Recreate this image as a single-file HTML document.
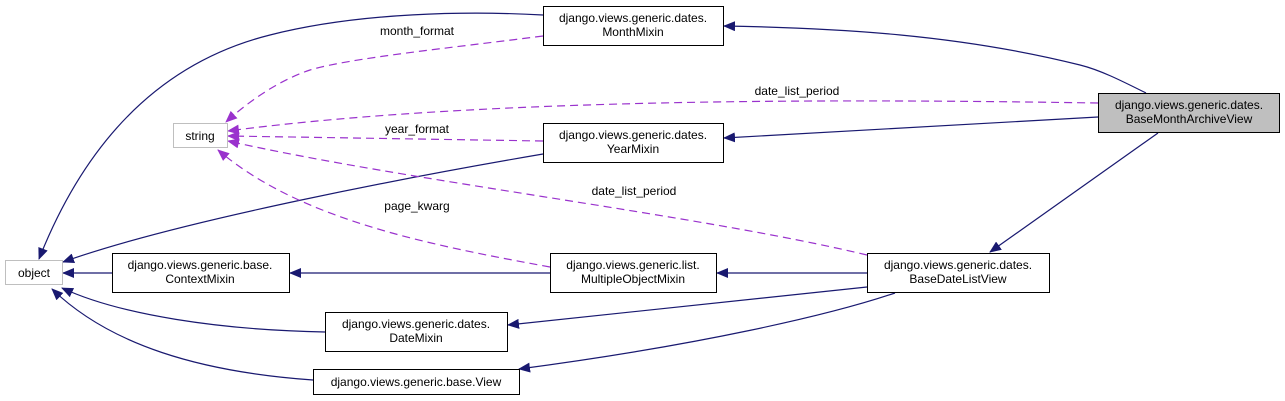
<!DOCTYPE html>
<html><head><meta charset="utf-8"><style>
html,body{margin:0;padding:0;background:#fff;}
svg{display:block;}
text{font-family:"Liberation Sans",sans-serif;font-size:12px;fill:#000;}
</style></head><body>
<svg width="1285" height="401" viewBox="0 0 1285 401" xmlns="http://www.w3.org/2000/svg">
<defs>
<marker id="an" markerWidth="12" markerHeight="10" refX="11" refY="5" orient="auto" markerUnits="userSpaceOnUse"><path d="M0,0 L12,5 L0,10 Z" fill="#191970"/></marker>
<marker id="ap" markerWidth="12" markerHeight="10" refX="11" refY="5" orient="auto" markerUnits="userSpaceOnUse"><path d="M0,0 L12,5 L0,10 Z" fill="#9a32cd"/></marker>
</defs>
<g fill="none" stroke="#191970" stroke-width="1.2" marker-end="url(#an)">
<path d="M543,15 C470,11 360,12 270,35 C170,60 90,130 39,259"/>
<path d="M1146,93 C1120,80 1100,70 1080,65 C960,35 840,28 724,26"/>
<path d="M1098,117 L724,138"/>
<path d="M1158,133 L990,252"/>
<path d="M543,154 C420,175 180,220 63,262"/>
<path d="M112,273 L63,273"/>
<path d="M550,273 L290,273"/>
<path d="M867,273 L717,273"/>
<path d="M867,287 L508,325"/>
<path d="M895,293 C830,315 700,345 519,369"/>
<path d="M325,332 C220,330 120,315 62,288"/>
<path d="M313,380 C200,372 110,345 52,289"/>
</g>
<g fill="none" stroke="#9a32cd" stroke-width="1.2" stroke-dasharray="8,5" marker-end="url(#ap)">
<path d="M543,36 C450,48 350,58 310,70 C280,80 250,100 226,122"/>
<path d="M1098,103 C900,100 500,95 228,131"/>
<path d="M543,141 L228,136"/>
<path d="M867,255 C700,215 400,180 228,141"/>
<path d="M550,267 C430,245 300,220 218,150"/>
</g>
<g stroke-width="1">
<rect x="5.5" y="260.5" width="57" height="24" fill="#fff" stroke="#bfbfbf"/>
<rect x="173.5" y="123.5" width="54" height="24" fill="#fff" stroke="#bfbfbf"/>
<rect x="112.5" y="253.5" width="177" height="39" fill="#fff" stroke="#000"/>
<rect x="543.5" y="6.5" width="180" height="39" fill="#fff" stroke="#000"/>
<rect x="543.5" y="123.5" width="180" height="39" fill="#fff" stroke="#000"/>
<rect x="550.5" y="253.5" width="166" height="39" fill="#fff" stroke="#000"/>
<rect x="325.5" y="312.5" width="182" height="39" fill="#fff" stroke="#000"/>
<rect x="313.5" y="369.5" width="206" height="25" fill="#fff" stroke="#000"/>
<rect x="867.5" y="253.5" width="182" height="39" fill="#fff" stroke="#000"/>
<rect x="1098.5" y="93.5" width="181" height="39" fill="#bfbfbf" stroke="#000"/>
</g>
<g text-anchor="middle">
<text x="34" y="277">object</text>
<text x="200" y="140">string</text>
<text x="200" y="269">django.views.generic.base.</text><text x="200" y="283">ContextMixin</text>
<text x="633" y="22">django.views.generic.dates.</text><text x="633" y="36">MonthMixin</text>
<text x="633" y="139">django.views.generic.dates.</text><text x="633" y="153">YearMixin</text>
<text x="633" y="269">django.views.generic.list.</text><text x="633" y="283">MultipleObjectMixin</text>
<text x="416" y="328">django.views.generic.dates.</text><text x="416" y="342">DateMixin</text>
<text x="416" y="386">django.views.generic.base.View</text>
<text x="958" y="269">django.views.generic.dates.</text><text x="958" y="283">BaseDateListView</text>
<text x="1189" y="109">django.views.generic.dates.</text><text x="1189" y="123">BaseMonthArchiveView</text>
<text x="417" y="35">month_format</text>
<text x="797" y="95">date_list_period</text>
<text x="417" y="133">year_format</text>
<text x="634" y="195">date_list_period</text>
<text x="417" y="210">page_kwarg</text>
</g>
</svg>
</body></html>
